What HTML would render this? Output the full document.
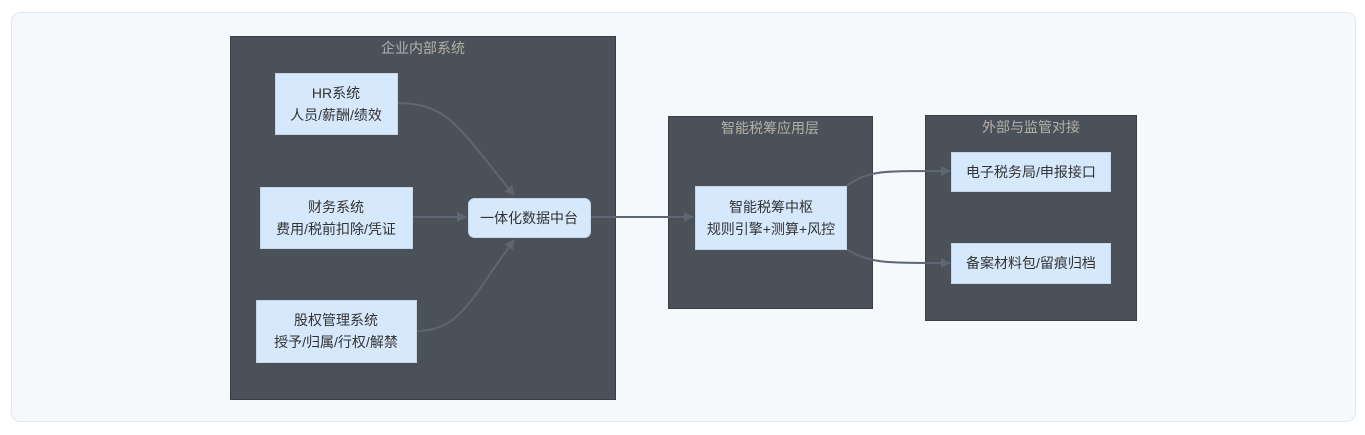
<!DOCTYPE html>
<html><head><meta charset="utf-8"><style>
html,body{margin:0;padding:0;background:#fff;}
svg{display:block;}
text{font-family:"Liberation Sans","Noto Sans CJK SC",sans-serif;}
</style></head><body>
<svg width="1365" height="435" viewBox="0 0 1365 435" xmlns="http://www.w3.org/2000/svg">
<defs>
<marker id="a" viewBox="0 0 10 10" refX="9" refY="5" markerWidth="5" markerHeight="5" orient="auto"><path d="M0,0L10,5L0,10z" fill="#5d6672"/></marker>
</defs>
<rect x="11.5" y="12.5" width="1344" height="409" rx="9" fill="#f5f9fc" stroke="#e1e7ee"/>
<rect x="230.5" y="36.5" width="385" height="363" fill="#4b5159" stroke="#3a3f45"/>
<rect x="668.5" y="116.5" width="204" height="192" fill="#4b5159" stroke="#3a3f45"/>
<rect x="925.5" y="115.5" width="211" height="205" fill="#4b5159" stroke="#3a3f45"/>
<g font-size="14" fill="#b4b0a8" text-anchor="middle">
<text x="423" y="53">企业内部系统</text>
<text x="770" y="133">智能税筹应用层</text>
<text x="1031" y="132">外部与监管对接</text>
</g>
<g stroke="#5d6672" stroke-width="2" fill="none" marker-end="url(#a)">
<path d="M397,103 C450,103 460,130 514,195"/>
<path d="M412,217 L466,217"/>
<path d="M416,331 C460,331 470,300 514,240"/>
<path d="M590,217 L693,217"/>
<path d="M846,186 C870,170 880,171 950,171"/>
<path d="M846,249 C870,263 880,263 950,263"/>
</g>
<g fill="#d6e8fc" stroke="#c6d6e8">
<rect x="275.5" y="73.5" width="122" height="61"/>
<rect x="260.5" y="187.5" width="152" height="61"/>
<rect x="256.5" y="300.5" width="160" height="62"/>
<rect x="468.5" y="198.5" width="122" height="39" rx="6"/>
<rect x="695.5" y="186.5" width="151" height="63"/>
<rect x="951.5" y="152.5" width="159" height="39"/>
<rect x="951.5" y="243.5" width="159" height="40"/>
</g>
<g font-size="14" fill="#333" text-anchor="middle">
<text x="336" y="98">HR系统</text><text x="336" y="120">人员/薪酬/绩效</text>
<text x="336" y="212">财务系统</text><text x="336" y="234">费用/税前扣除/凭证</text>
<text x="336" y="325">股权管理系统</text><text x="336" y="347">授予/归属/行权/解禁</text>
<text x="529" y="223">一体化数据中台</text>
<text x="771" y="212">智能税筹中枢</text><text x="771" y="234">规则引擎+测算+风控</text>
<text x="1031" y="177">电子税务局/申报接口</text>
<text x="1031" y="268">备案材料包/留痕归档</text>
</g>
</svg>
</body></html>
